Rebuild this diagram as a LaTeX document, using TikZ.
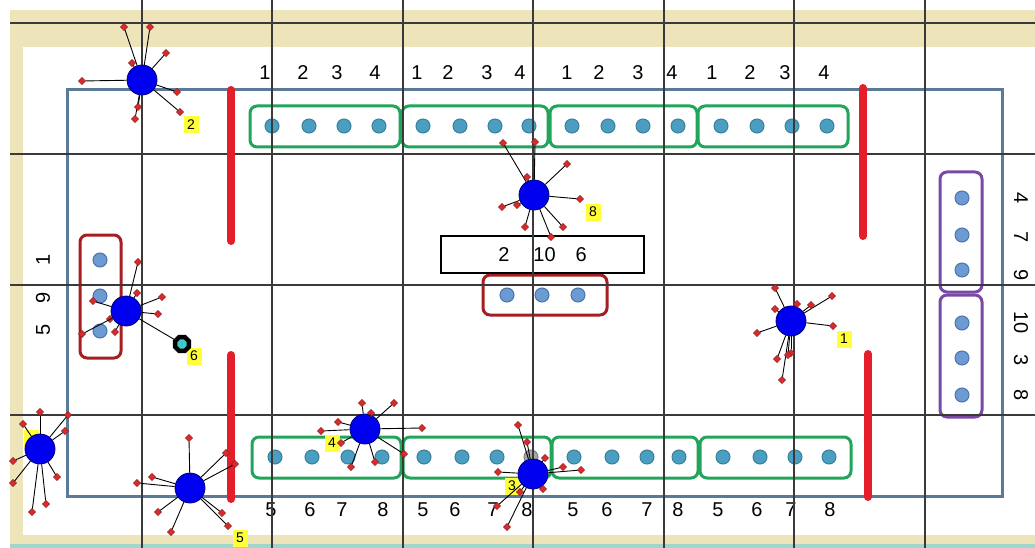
\documentclass[tikz,border=0pt]{standalone}
\usepackage{fontspec}
\setmainfont{Liberation Sans}
\usetikzlibrary{shapes.geometric}
\definecolor{tanbg}{HTML}{EEE4BA}
\definecolor{tealline}{HTML}{9FD8CB}
\definecolor{gridc}{HTML}{3A3A3A}
\definecolor{steel}{HTML}{5A7A98}
\definecolor{barred}{HTML}{E41E2B}
\definecolor{grn}{HTML}{20A55A}
\definecolor{tdot}{HTML}{4A9EC2}
\definecolor{tdotb}{HTML}{3B8099}
\definecolor{maroon}{HTML}{A61E22}
\definecolor{ldot}{HTML}{6C9AD2}
\definecolor{ldotb}{HTML}{4D74A8}
\definecolor{purp}{HTML}{7A49A5}
\definecolor{hubc}{HTML}{0000F0}
\definecolor{hubb}{HTML}{00007A}
\definecolor{rd}{HTML}{D92B2B}
\definecolor{ylw}{HTML}{FFFF3A}
\definecolor{octin}{HTML}{40C8C8}
\begin{document}
\begin{tikzpicture}[x=1pt,y=-1pt,
  gbox/.style={draw=grn,line width=3pt,rounded corners=7pt,minimum height=41pt,inner sep=0},
  mbox/.style={draw=maroon,line width=3pt,rounded corners=7pt,inner sep=0},
  pbox/.style={draw=purp,line width=3pt,rounded corners=7pt,minimum width=42pt,inner sep=0},
  bdot/.style={circle,fill=tdot,draw=tdotb,line width=1pt,minimum size=14pt,inner sep=0},
  ldt/.style={circle,fill=ldot,draw=ldotb,line width=1pt,minimum size=14pt,inner sep=0},
  lbl/.style={font=\fontsize{20}{24}\selectfont,inner sep=0},
  gridl/.style={draw=gridc,line width=1.1pt},
  bar/.style={draw=barred,line width=8pt,line cap=round},
  hub/.style={circle,fill=hubc,draw=hubb,line width=0.8pt,minimum size=30pt,inner sep=0},
  rdot/.style={diamond,fill=rd,draw=rd!60!black,line width=0.4pt,minimum size=7.5pt,inner sep=0},
  spoke/.style={draw=black,line width=0.9pt},
  ytag/.style={fill=ylw,minimum width=15pt,minimum height=17pt,inner sep=1pt,font=\fontsize{14}{16}\selectfont}
]
\useasboundingbox (0,0) rectangle (1035,548);
% background
\fill[white] (0,0) rectangle (1035,548);
\fill[tanbg] (10,10) rectangle (1035,545);
\fill[white] (23,47) rectangle (1035,535);
\fill[tealline] (10,544) rectangle (1035,548);
% field frame
\draw[steel,line width=3pt] (67,90) rectangle (1002,496);
% green boxes top
\node[gbox,minimum width=150pt] (gt1) at (325,126.5) {};
\node[gbox,minimum width=146pt] (gt2) at (475,126.5) {};
\node[gbox,minimum width=147pt] (gt3) at (623.5,126.5) {};
\node[gbox,minimum width=150pt] (gt4) at (773,126.5) {};
% green boxes bottom
\node[gbox,minimum width=149pt] (gb1) at (326.5,457.5) {};
\node[gbox,minimum width=148pt] (gb2) at (477,457.5) {};
\node[gbox,minimum width=146pt] (gb3) at (625,457.5) {};
\node[gbox,minimum width=151pt] (gb4) at (775.5,457.5) {};
% dots top
\foreach \x [count=\i] in {272,309,344,379,423,460,495,529,572,608,643,678,721,757,792,827}
  \node[bdot] (dt\i) at (\x,126) {};
% dots bottom
\foreach \x [count=\i] in {275,312,348,382,424,462,497,574,612,647,679,723,760,795,829}
  \node[bdot] (db\i) at (\x,457) {};
\node[bdot,fill=gray!70,draw=gray] (dbg) at (531,457) {};
% labels top
\foreach \x/\t [count=\i] in {265/1,303/2,337/3,375/4,417/1,448/2,487/3,520/4,567/1,599/2,638/3,672/4,712/1,750/2,785/3,824/4}
  \node[lbl] (lt\i) at (\x,73) {\t};
% labels bottom
\foreach \x/\t [count=\i] in {271/5,310/6,342/7,383/8,423/5,455/6,493/7,527/8,573/5,607/6,647/7,678/8,718/5,757/6,791/7,830/8}
  \node[lbl] (lb\i) at (\x,510) {\t};
% left maroon box
\node[mbox,minimum width=41pt,minimum height=123pt] (ml) at (100.5,296.5) {};
\foreach \y [count=\i] in {260,296,331}
  \node[ldt] (ld\i) at (100,\y) {};
% center maroon box and text box
\node[mbox,minimum width=124pt,minimum height=40pt] (mc) at (545,295) {};
\foreach \x [count=\i] in {507,542,578}
  \node[ldt] (cd\i) at (\x,295) {};
\node[draw=black,line width=2.5pt,minimum width=203pt,minimum height=37pt,inner sep=0,font=\fontsize{20}{24}\selectfont] (tb) at (542.5,254.5) {2\hspace{24pt}10\hspace{20pt}6};
% purple boxes
\node[pbox,minimum height=120pt] (pb1) at (961,232) {};
\node[pbox,minimum height=122pt] (pb2) at (961,356) {};
\foreach \y [count=\i] in {198,235,270,323,358,395}
  \node[ldt] (pd\i) at (962,\y) {};
% side labels
\foreach \y/\t [count=\i] in {260/1,298/9,330/5}
  \node[lbl,rotate=90] (sl\i) at (43,\y) {\t};
\foreach \y/\t [count=\i] in {198/4,237/7,275/9,323/10,360/3,395/8}
  \node[lbl,rotate=-90] (sr\i) at (1021,\y) {\t};
% grid
\foreach \x in {142,272,403,533,664,794,925}
  \draw[gridl] (\x,0) -- (\x,548);
\foreach \y in {23,154,285,415}
  \draw[gridl] (10,\y) -- (1035,\y);
% red bars
\draw[bar] (231,90) -- (231,241);
\draw[bar] (231,355) -- (231,499);
\draw[bar] (863,88) -- (863,236);
\draw[bar] (868,354) -- (868,497);
% tags
\node[ytag] (tA) at (191,125) {2};
\node[ytag] (tB) at (194,356) {6};
\node[ytag] (tC) at (593,212) {8};
\node[ytag] (tD) at (844,339) {1};
\node[ytag] (tE) at (31,438) {};
\node[ytag] (tF) at (240,538) {5};
\node[ytag] (tG) at (332,443) {4};
\node[ytag] (tH) at (512,486) {3};
% octagon
\node[regular polygon,regular polygon sides=8,draw=black,line width=4.5pt,fill=octin,minimum size=15pt,inner sep=0] (oct) at (182,344) {};
% hubs
\node[hub] (A) at (142,80) {};
\node[hub] (B) at (126,311) {};
\node[hub] (C) at (534,195) {};
\node[hub] (D) at (791,321) {};
\node[hub] (E) at (40,449) {};
\node[hub] (F) at (190,488) {};
\node[hub] (G) at (365,429) {};
\node[hub] (H) at (533,474) {};
\draw[spoke] (B) -- (oct);
\foreach \h/\pts in {
  A/{124/27,150/27,166/53,132/63,82/81,177/92,180/112,135/119,138/107},
  B/{138/262,137/293,162/297,158/314,93/301,110/319,115/332,82/334},
  C/{503/143,535/142,567/164,527/177,580/199,502/207,517/205,525/227,563/227,551/237},
  D/{775/288,832/296,811/305,797/304,775/309,833/326,757/333,777/359,782/380,791/353,788/355},
  E/{40/412,23/424,68/415,65/431,13/461,13/483,32/512,46/504,57/477},
  F/{189/438,226/453,235/464,152/477,137/483,158/512,171/532,222/513,228/526},
  G/{362/403,394/403,371/413,338/422,321/431,341/443,422/428,404/454,375/462,351/467},
  H/{518/425,527/442,545/458,563/467,581/470,498/472,543/489,520/492,497/506,507/527}}
{
  \foreach \px/\py [count=\k] in \pts {
    \node[rdot] (\h s\k) at (\px,\py) {};
    \draw[spoke] (\h) -- (\h s\k);
  }
}
\end{tikzpicture}
\end{document}
